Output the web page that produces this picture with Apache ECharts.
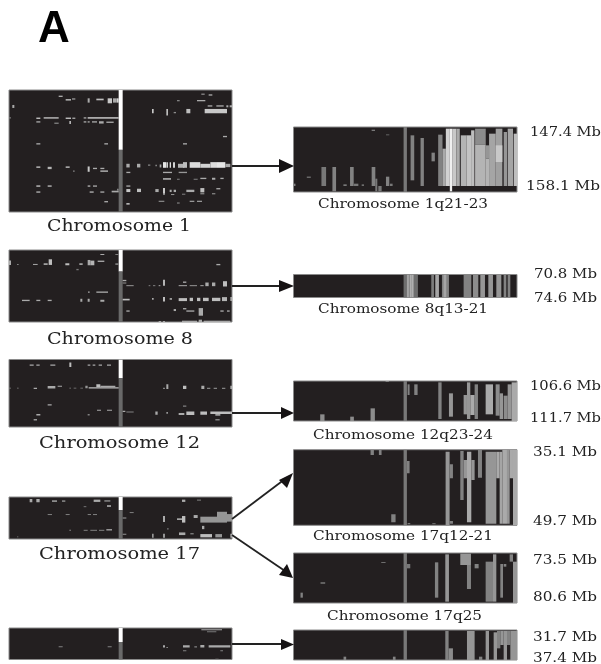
<!DOCTYPE html>
<html><head><meta charset="utf-8">
<script src="https://cdn.jsdelivr.net/npm/echarts@6/dist/echarts.min.js"></script>
<style>html,body{margin:0;padding:0;background:#fff}#main{width:601px;height:664px;filter:blur(0.6px)}</style>
</head><body><div id="main"></div>
<script>
// Each mark: [sampleFrom, sampleTo, binFrom, binTo, intensity 0-255]
const chr1 = [[355,367,30,210,255],[355,367,210,397,105],
[175,187,47,51,170],[196,212,57,62,170],[215,225,55,59,150],[262,268,55,68,170],[288,310,56,61,190],[322,335,55,70,200],[338,347,55,68,170],[348,355,55,68,210],
[36,42,75,84,170],[25,32,112,116,120],[108,120,113,117,200],[130,175,112,116,200],[196,212,113,117,200],[216,225,113,117,170],[250,258,112,116,170],[262,355,112,116,220],
[108,120,124,128,170],[162,175,128,132,130],[207,212,123,132,180],[250,258,124,128,170],[262,268,124,128,170],[275,290,124,128,170],[296,310,124,131,170],[318,340,125,129,170],[108,120,190,194,170],[312,323,190,194,170],
[108,120,260,264,200],[142,154,261,268,180],[196,208,260,264,200],[218,223,272,276,130],[262,268,260,276,200],[278,290,264,268,170],[300,312,264,268,170],[300,323,272,276,190],
[108,120,317,321,200],[142,154,317,321,190],[262,270,317,321,180],[278,290,317,321,170],[108,120,335,339,180],[268,280,335,339,180],[300,312,335,339,170],[334,355,333,338,170],[350,355,327,333,130],[312,323,364,368,170],
[603,613,41,44,170],[625,636,43,47,170],[530,538,60,64,130],[590,615,60,64,170],[622,636,76,80,170],[648,670,76,80,170],[678,684,76,82,170],[688,695,76,82,170],
[455,460,87,100,200],[498,503,87,107,190],[520,527,96,100,140],[558,570,87,100,190],[613,680,87,100,200],[668,680,168,172,170],[548,560,190,194,170],
[378,388,252,263,170],[410,420,252,263,170],[443,450,254,258,130],[465,470,255,259,130],[478,483,254,263,170],[488,497,247,264,230],[498,503,247,264,210],[508,512,247,264,220],[518,524,247,264,210],[533,552,252,264,180],[548,560,247,264,190],[568,600,247,264,220],[600,630,252,264,210],[630,650,247,264,220],[650,675,247,264,230],[675,690,252,262,170],
[378,390,276,280,170],[488,515,276,280,170],[535,560,276,280,150],
[488,512,295,300,170],[530,538,297,300,130],[580,592,297,300,130],[600,618,294,298,170],[635,645,294,300,170],[660,670,294,298,170],
[378,390,317,321,170],[378,390,328,337,200],[410,422,327,337,190],[465,475,328,337,170],[488,494,325,342,200],[508,514,330,337,170],[520,527,330,337,170],[558,582,330,337,170],[600,612,325,338,190],[648,660,325,329,170],[488,494,343,346,130],[512,522,343,346,150],[600,612,340,344,130],[635,645,340,344,130],[545,555,342,345,130],
[378,388,370,375,180],[475,492,363,367,130],[530,538,368,372,120],[568,582,363,367,150],[590,605,363,367,150]];

const chr8 = [[355,367,30,95,255],[355,367,95,247,105],
[300,312,42,45,170],[345,355,42,45,130],[26,32,62,75,170],[50,55,72,75,130],[98,112,72,75,170],[130,142,70,75,170],[145,155,58,75,190],[195,207,70,76,190],[237,247,70,75,170],[262,270,60,76,170],[270,282,62,76,180],[292,312,62,66,170],[345,355,70,75,130],[228,235,87,91,120],
[263,268,155,159,170],[288,323,155,159,170],[65,88,180,184,170],[108,120,180,184,170],[142,154,180,184,170],[240,246,177,186,170],[262,268,177,186,170],[300,312,180,186,170],
[648,660,72,76,170],[367,378,120,124,170],[367,378,128,131,150],[378,400,136,139,150],[445,450,136,139,130],[458,465,136,139,130],[475,480,136,139,170],[488,494,120,138,180],[548,558,125,129,170],[535,560,136,139,170],[568,590,136,139,150],[600,610,136,139,170],[615,625,128,139,170],[635,645,128,139,170],[668,680,124,140,190],
[367,388,177,182,190],[455,460,175,180,170],[488,494,172,185,190],[508,515,175,180,170],[535,560,175,184,190],[568,578,174,184,190],[590,600,174,184,190],[608,625,174,184,190],[635,660,174,184,190],[665,680,172,184,180],[690,695,172,184,170],
[378,388,212,216,170],[520,527,208,214,170],[548,558,205,209,170],[558,582,212,216,170],[595,608,205,228,170],[660,670,212,216,170],[680,688,212,216,170],
[475,482,244,247,170],[488,494,244,247,170],[545,590,243,247,170],[595,605,240,247,170],[610,690,243,247,170]];

const chr12 = [[355,367,13,70,255],[355,367,70,217,105],
[88,100,28,32,170],[108,118,28,32,170],[150,165,28,32,170],[207,213,22,36,190],[262,270,28,32,170],[277,285,28,32,170],[295,305,28,32,170],[320,332,28,32,170],
[26,32,98,101,130],[50,55,98,101,130],[100,110,98,102,170],[142,165,93,101,170],[172,185,92,95,170],[207,212,98,101,130],[220,228,98,101,130],[240,248,98,101,130],[255,262,92,100,150],[265,355,97,101,190],[288,300,88,97,190],[300,345,92,97,170],
[142,154,148,152,170],[108,120,178,182,170],[100,110,193,197,150],[262,268,178,182,130],[290,302,165,168,170],[320,335,165,168,170],[367,375,168,172,170],[378,400,170,173,130],
[488,494,98,102,130],[498,504,88,102,170],[548,558,92,102,190],[603,612,92,102,170],[620,630,98,102,130],[640,650,98,102,130],[665,675,98,102,130],[690,695,92,102,170],
[548,558,152,156,130],[465,472,170,180,170],[498,503,172,177,150],[535,552,175,181,170],[558,582,170,181,190],[600,620,170,180,190],[630,695,170,178,190],[645,660,178,183,160],[645,658,193,197,130]];

const chr17 = [[355,367,20,60,255],[355,367,60,148,105],
[88,96,26,36,170],[108,118,26,36,170],[155,170,30,35,150],[185,195,30,35,130],[280,300,28,35,170],[312,330,30,34,150],[320,332,45,50,170],[250,258,48,51,120],
[142,155,72,75,130],[196,208,72,75,130],[262,272,72,75,130],[278,290,72,75,130],
[207,212,120,123,130],[250,262,120,123,130],[270,290,120,123,130],[296,312,120,123,130],[318,335,118,122,170],[50,54,140,143,120],
[545,555,28,35,170],[590,602,28,31,130],
[388,400,66,69,130],[367,378,82,86,130],[488,494,78,96,170],[530,545,85,90,170],[545,555,78,98,190],[580,592,75,84,170],[600,650,80,98,150],[650,680,65,98,150],[680,695,72,95,150],[500,505,115,119,120],[605,612,108,118,170],
[367,378,132,135,150],[455,460,132,144,150],[488,494,132,144,150],[536,555,128,136,170],[570,580,130,134,130],[600,635,133,143,190],[645,665,133,143,150],[690,695,132,144,170]];

const chrLast = [[355,367,23,65,255],[355,367,65,118,105],
[175,187,78,81,130],[322,334,78,81,130],[603,665,27,30,170],[620,648,33,36,120],[488,494,75,82,170],[498,503,80,83,130],[548,568,75,82,170],[582,590,78,82,130],[600,612,74,82,170],[625,690,75,82,170],[548,558,90,93,130],[660,668,90,93,130],[645,655,116,118,130]];

const q1 = [[371,381,35,230,120],[275,285,43,47,120],[318,328,57,60,100],
[80,92,184,187,140],[40,46,205,212,130],[124,138,155,212,120],[157,168,155,228,130],[190,200,207,212,120],[210,221,155,212,130],[222,235,205,212,120],[245,252,207,212,110],[275,286,155,212,130],[286,292,190,228,120],[295,305,212,228,120],[318,328,184,212,130],[330,338,205,212,120],
[392,403,60,195,130],[422,432,68,212,130],[455,465,112,138,130],[475,488,58,212,130],[488,498,100,212,170],[498,510,40,212,210],[510,517,40,228,240],[517,530,40,212,200],[530,540,40,212,170],[543,560,60,212,180],[560,574,60,212,195],[574,584,45,212,190],
[586,618,40,88,140],[586,618,88,212,180],[618,628,90,130,150],[618,628,130,212,180],[628,648,55,212,165],[648,668,40,212,160],[648,668,90,140,200],[672,682,50,212,150],[684,700,40,212,165],[702,712,55,212,190]];

const q8 = [[372,415,43,112,110],[382,388,43,112,165],[390,396,43,112,175],[396,402,43,112,175],[455,463,43,112,125],[467,478,43,112,165],[487,508,43,112,130],[492,500,43,112,165],[552,575,43,112,130],[580,596,43,112,140],[602,616,43,112,150],[626,640,43,112,150],[650,665,43,112,150],[672,680,43,112,130],[684,692,43,112,130]];

const q12 = [[318,328,18,21,130],[122,135,118,138,140],[212,223,125,138,140],[273,286,100,138,140],
[372,382,18,138,120],[384,390,28,60,130],[404,414,28,60,130],[476,486,22,132,130],[508,520,55,125,150],[552,562,60,118,150],[562,572,22,132,150],[572,585,60,120,170],[585,595,28,132,130],[618,640,28,118,170],[648,660,28,122,140],[660,670,55,132,150],[672,684,62,132,140],[684,696,28,132,150],[696,712,22,138,170]];

const q17a = [[273,283,14,30,130],[298,306,14,30,130],[335,348,208,232,130],
[372,382,14,241,120],[382,390,48,85,130],[384,392,234,238,120],[458,468,234,238,100],[498,510,20,241,150],[510,520,58,100,130],[510,520,228,236,130],[542,552,18,165,130],[552,572,45,100,150],[562,575,20,232,170],[575,585,45,105,150],[595,607,14,98,130],[618,650,20,236,150],[650,660,20,100,170],[660,668,20,236,165],[668,682,14,236,170],[682,690,14,236,150],[690,700,14,100,170],[700,712,14,241,170]];

const q17b = [[305,318,51,54,110],[123,137,112,116,130],[63,70,143,158,130],
[372,382,24,174,120],[382,392,57,70,120],[466,476,52,158,130],[497,508,28,170,150],[542,574,26,60,150],[562,574,60,132,130],[585,597,57,70,130],[618,640,50,170,130],[640,650,28,170,150],[662,670,57,158,130],[672,680,57,65,130],[690,700,28,50,130],[700,712,50,174,150]];

const qLast = [[192,200,335,345,130],[340,348,335,345,130],[372,382,255,345,120],[497,507,258,345,130],[507,520,310,345,140],[562,585,258,345,150],[598,608,335,345,130],[618,628,258,345,150],[642,652,262,345,150],[652,662,258,310,130],[662,672,258,300,150],[672,682,258,345,150],[682,692,258,300,130],[692,712,258,345,150]];

// [marks, sample range, bin range, left, top, width, height]
const panels = [
 [chr1,[26,695],[30,397],9,90,223,122],
 [chr8,[26,695],[30,247],9,250,223,72],
 [chr12,[26,695],[13,217],9,359.5,223,67.5],
 [chr17,[26,695],[20,148],9,497,223,42],
 [chrLast,[26,695],[23,118],9,628,223,31.5],
 [q1,[40,712],[35,230],293.5,127,223.5,65],
 [q8,[42,712],[43,112],293.5,274.5,223.5,23],
 [q12,[42,712],[18,138],293.5,381,223.5,40],
 [q17a,[42,712],[14,241],293.5,449.7,223.5,75.6],
 [q17b,[42,712],[24,174],293.5,553,223.5,50],
 [qLast,[42,712],[255,345],293.5,630,223.5,30]
];

// [text, left, vertical centre, width, font size]
const labels = [
 ['Chromosome 1',47,227,144,16],['Chromosome 8',47,340,146,16],['Chromosome 12',39,444,161,16],['Chromosome 17',39,555,161,16],
 ['Chromosome 1q21-23',318,205,170,12],['Chromosome 8q13-21',318,310,170,12],['Chromosome 12q23-24',313,436,180,12],['Chromosome 17q12-21',313,537,180,12],['Chromosome 17q25',327,617,155,12],
 ['147.4 Mb',530,133,71,12],['158.1 Mb',526,187,74,12],['70.8 Mb',534,275,63,12],['74.6 Mb',534,299,63,12],
 ['106.6 Mb',530,387,71,12],['111.7 Mb',530,419,71,12],['35.1 Mb',533,453,64,12],['49.7 Mb',533,522,64,12],
 ['73.5 Mb',533,561,64,12],['80.6 Mb',533,598,64,12],['31.7 Mb',533,638,64,12],['37.4 Mb',533,659,64,12]
];

// connector: [x1,y1,x2,y2] plus arrow head polygon
const connectors = [
 [[232,166,281,166],[[279,159],[294,166],[279,173]]],
 [[232,286,281,286],[[279,280],[294,286],[279,292]]],
 [[232,413,283,413],[[281,407],[294,413],[281,419]]],
 [[232,519,285,479],[[279,480],[293,473],[287,488]]],
 [[232,535,285,571],[[287,564],[293,578],[279,575]]],
 [[232,644,283,644],[[281,639],[294,644.5],[281,650]]]
];

const measure = document.createElement('canvas').getContext('2d');
const serif = '"DejaVu Serif"';
const graphic = [];
labels.forEach(([t,x,y,w,s])=>{
  measure.font = s+'px '+serif;
  graphic.push({type:'text',x,y,scaleX:w/measure.measureText(t).width,z:10,silent:true,
    style:{text:t,font:s+'px '+serif,fill:'#222',textAlign:'left',textVerticalAlign:'middle'}});
});
graphic.push({type:'text',x:38,y:30,z:10,silent:true,style:{text:'A',font:'bold 44px "Liberation Sans"',fill:'#000',textAlign:'left',textVerticalAlign:'middle'}});
connectors.forEach(([l,p])=>{
  graphic.push({type:'line',z:9,silent:true,shape:{x1:l[0],y1:l[1],x2:l[2],y2:l[3]},style:{stroke:'#222',lineWidth:1.8}});
  graphic.push({type:'polygon',z:9,silent:true,shape:{points:p},style:{fill:'#151213'}});
});

const grid=[],xAxis=[],yAxis=[],series=[];
panels.forEach(([marks,sx,sy,left,top,width,height],i)=>{
  grid.push({left,top,width,height,show:true,backgroundColor:'#231f20',borderColor:'#8a8a8a',borderWidth:1});
  xAxis.push({type:'value',gridIndex:i,min:sx[0],max:sx[1],show:false});
  yAxis.push({type:'value',gridIndex:i,min:sy[0],max:sy[1],inverse:true,show:false});
  series.push({type:'custom',xAxisIndex:i,yAxisIndex:i,silent:true,clip:true,animation:false,
    encode:{x:[0,1],y:[2,3]},data:marks,
    renderItem:(p,api)=>{
      const a=api.coord([api.value(0),api.value(2)]),b=api.coord([api.value(1),api.value(3)]),g=api.value(4);
      return {type:'rect',shape:{x:a[0],y:a[1],width:b[0]-a[0],height:b[1]-a[1]},style:{fill:`rgb(${g},${g},${g})`}};
    }});
});
const chart=echarts.init(document.getElementById('main'),null,{renderer:'canvas'});
chart.setOption({animation:false,backgroundColor:'#fff',tooltip:{show:false},grid,xAxis,yAxis,series,graphic});
</script></body></html>
